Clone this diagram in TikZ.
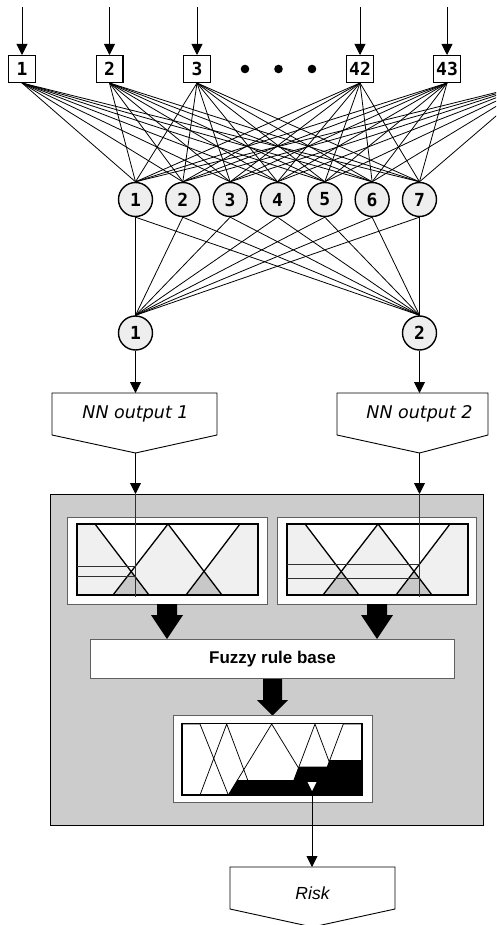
\documentclass[tikz,border=0pt]{standalone}
\usepackage{fontspec}
\usetikzlibrary{arrows.meta}
\newfontfamily\numfont{DejaVu Sans Mono}
\newfontfamily\nnfont{DejaVu Sans}
\newfontfamily\lsfont{Liberation Sans}
\definecolor{bggray}{HTML}{CCCCCC}
\definecolor{lightfill}{HTML}{F0F0F0}
\definecolor{nodefill}{HTML}{EEEEEE}
\definecolor{overlapgray}{HTML}{C8C8C8}
\definecolor{framegray}{HTML}{606060}
\definecolor{cutgray}{HTML}{303030}
\newcommand\mfsets{%
  \fill[lightfill] (0,0) rectangle (181,71);
  \fill[white] (18,0) -- (54.17,47.6) -- (91,0) -- cycle;
  \fill[white] (91,0) -- (127,47.3) -- (163,0) -- cycle;
  \fill[overlapgray] (36,71) -- (54.17,47.6) -- (72,71) -- cycle;
  \fill[overlapgray] (109,71) -- (127,47.3) -- (145,71) -- cycle;
  \draw[line width=1.1pt] (0,0) rectangle (181,71);
  \draw[mfline] (0,0) -- (18,0) -- (72,71);
  \draw[mfline] (36,71) -- (91,0) -- (145,71);
  \draw[mfline] (109,71) -- (163,0) -- (181,0);
}
\begin{document}
\begin{tikzpicture}[x=1pt,y=-1pt,
  inbox/.style={draw,line width=1.4pt,fill=white,minimum width=26.6pt,minimum height=26.6pt,inner sep=0pt,
    font=\numfont\bfseries\fontsize{18}{18}\selectfont},
  neuron/.style={circle,draw,line width=1.4pt,fill=nodefill,minimum size=34pt,inner sep=0pt,
    font=\numfont\bfseries\fontsize{18}{18}\selectfont},
  link/.style={line width=0.8pt},
  arr/.style={line width=0.9pt,-{Triangle[length=11pt,width=11pt]}},
  cutline/.style={line width=0.7pt,draw=cutgray},
  mfline/.style={line width=1.3pt},
  outline/.style={draw,line width=0.9pt,fill=white},
  framebox/.style={draw=framegray,line width=0.8pt,fill=white},
  nnlabel/.style={font=\nnfont\itshape\fontsize{17.5}{17.5}\selectfont},
  blockarrow/.style={fill=black}
]
\useasboundingbox (0,0) rectangle (496,925);
\clip (0,0) rectangle (496,925);

% input layer
\node[inbox] (i1) at (22,69) {1};
\node[inbox] (i2) at (109.5,69) {2};
\node[inbox] (i3) at (197,69) {3};
\node[inbox] (i42) at (360,69) {42};
\node[inbox] (i43) at (447,69) {43};
\coordinate (i44) at (534.5,83);
\foreach \k in {1,2,3,42,43} {
  \coordinate (t\k) at ([yshift=48pt]i\k.north);
  \draw[arr] (t\k) -- (i\k.north);
}
\fill (245,69) circle (4.3);
\fill (278.5,69) circle (4.3);
\fill (312,69) circle (4.3);

% hidden layer
\foreach \h in {1,...,7} {
  \node[neuron] (h\h) at ({135.5+47.33*(\h-1)},199.5) {\h};
}
% output layer
\node[neuron] (o1) at (135.5,333) {1};
\node[neuron] (o2) at (419.5,333) {2};

\foreach \k in {1,2,3,42,43} {
  \foreach \h in {1,...,7} { \draw[link] (i\k.south) -- (h\h.north); }
}
\foreach \h in {1,...,7} { \draw[link] (i44) -- (h\h.north); }
\foreach \h in {1,...,7} {
  \draw[link] (h\h.south) -- (o1.north);
  \draw[link] (h\h.south) -- (o2.north);
}

% NN output boxes
\draw[outline] (52,393) -- (217,393) -- (217,435) -- (135.5,453) -- (52,435) -- cycle;
\node[nnlabel] (nn1) at (135.5,414) {NN output 1};
\coordinate (nn1top) at (135.5,393);
\coordinate (nn1tip) at (135.5,453);
\draw[outline] (337,393) -- (488,393) -- (488,435) -- (419.5,453) -- (337,435) -- cycle;
\node[nnlabel] (nn2) at (419.5,414) {NN output 2};
\coordinate (nn2top) at (419.5,393);
\coordinate (nn2tip) at (419.5,453);
\draw[arr] (o1.south) -- (nn1top);
\draw[arr] (o2.south) -- (nn2top);

% fuzzy system
\draw[fill=bggray,line width=0.9pt] (50,494) rectangle (483,825);
\coordinate (f1in) at (135.5,494);
\coordinate (f2in) at (419.5,494);
\draw[arr] (nn1tip) -- (f1in);
\draw[arr] (nn2tip) -- (f2in);

\draw[framebox] (67,517) rectangle (267,604);
\draw[framebox] (277,517) rectangle (476,604);
\begin{scope}[shift={(77,524)}]
  \mfsets
  \draw[cutline] (0,42.6) -- (58.5,42.6);
  \draw[cutline] (0,52.6) -- (58.5,52.6);
\end{scope}
\begin{scope}[shift={(287,524)}]
  \mfsets
  \draw[cutline] (0,40.1) -- (132.5,40.1);
  \draw[cutline] (0,54.6) -- (132.5,54.6);
\end{scope}
\coordinate (f1end) at (135.5,597);
\coordinate (f2end) at (419.5,597);
\draw[cutline] (f1in) -- (f1end);
\draw[cutline] (f2in) -- (f2end);

% block arrows
\fill[blockarrow] (157,604) -- (177,604) -- (177,615) -- (183,615) -- (167,639) -- (151,615) -- (157,615) -- cycle;
\fill[blockarrow] (367,604) -- (387,604) -- (387,615) -- (393,615) -- (377,639) -- (361,615) -- (367,615) -- cycle;

\node[draw=framegray,line width=0.8pt,fill=white,minimum width=364pt,minimum height=39pt,inner sep=0pt,
  font=\lsfont\bfseries\fontsize{17}{17}\selectfont] (frb) at (272.5,659) {Fuzzy rule base};

\fill[blockarrow] (263,679) -- (282,679) -- (282,700) -- (288,700) -- (272.5,715.5) -- (257,700) -- (263,700) -- cycle;

% output membership
\draw[framebox] (173,715) rectangle (372,802);
\fill[white] (182,723.5) rectangle (362,795);
\begin{scope}[line width=0.75pt]
  \draw (182,724) -- (200,724) -- (228.3,795);
  \draw (200,795) -- (226.7,724) -- (253.3,795);
  \draw (228.3,795) -- (271.7,724) -- (315,795);
  \draw (288.3,795) -- (315,724) -- (341.7,795);
  \draw (316.7,795) -- (343.3,724) -- (362,724);
\end{scope}
\fill (228.3,795) -- (237.5,780) -- (293.9,780) -- (298.9,766.7) -- (327.3,766.7) -- (329.8,760) -- (362,760) -- (362,795) -- cycle;
\draw[line width=1.3pt] (182,723.5) rectangle (362,795);
\fill[white] (307.5,782) -- (316.5,782) -- (312,791) -- cycle;
\coordinate (cog) at (312,791);

% Risk
\draw[outline] (230,867) -- (395,867) -- (395,909) -- (312.5,927) -- (230,909) -- cycle;
\node[font=\lsfont\itshape\fontsize{17.5}{17.5}\selectfont] (risk) at (312.5,893) {Risk};
\coordinate (risktop) at (312,867);
\draw[arr] (cog) -- (risktop);
\end{tikzpicture}
\end{document}
